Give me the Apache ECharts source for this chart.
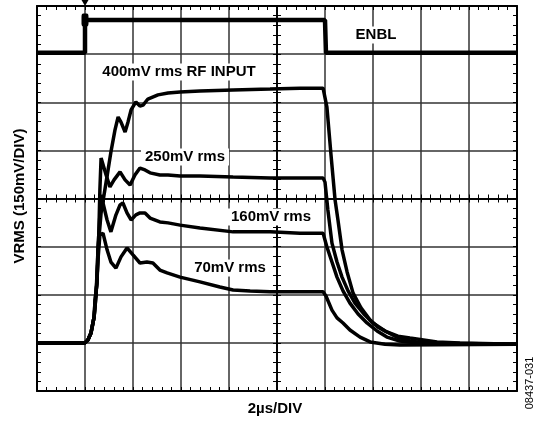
<!DOCTYPE html>
<html>
<head>
<meta charset="utf-8">
<script src="https://cdn.jsdelivr.net/npm/echarts@6/dist/echarts.min.js"></script>
<style>
html,body{margin:0;padding:0;background:#fff;}
#c{width:540px;height:421px;}
</style>
</head>
<body>
<div id="c"></div>
<script>
// time in µs (2 µs/div), level in mV (150 mV/div)
const xMin = 0, xMax = 20, xStep = 2;
const yMin = 0, yMax = 1200, yStep = 150;

const enbl = [[0,1054],[2,1054],[2,1156],[12,1156],[12.04,1054],[20,1054]];

const rf400 = [[0,150],[2,150],[2.12,159],[2.25,181],[2.38,231],[2.42,284],[2.5,337],[2.54,440],[2.67,555],[2.88,651],[3.08,745],[3.25,814],[3.38,854],[3.5,838],[3.67,807],[3.79,838],[3.92,876],[4.12,901],[4.29,888],[4.42,891],[4.62,910],[5.04,923],[5.46,929],[5.96,932],[6.79,935],[8.17,938],[9.71,941],[10.96,944],[11.92,944],[12.0,938],[12.08,885],[12.25,736],[12.42,595],[12.54,533],[12.71,440],[12.92,371],[13.17,305],[13.5,259],[13.88,221],[14.21,199],[14.58,184],[15.04,171],[15.54,165],[16.67,153],[17.62,150],[20,146]];

const rf250 = [[0,150],[2,150],[2.12,159],[2.25,181],[2.38,231],[2.42,284],[2.5,337],[2.58,502],[2.62,627],[2.67,726],[2.75,720],[2.88,673],[3.04,636],[3.21,658],[3.46,683],[3.67,658],[3.88,642],[4.08,673],[4.29,695],[4.5,689],[4.71,680],[5.12,673],[5.46,673],[5.96,670],[6.79,670],[8.17,667],[9.71,664],[10.96,664],[11.92,664],[12.0,651],[12.12,564],[12.29,461],[12.5,402],[12.71,355],[12.96,312],[13.25,274],[13.62,240],[14.0,212],[14.5,187],[15.0,168],[15.54,156],[16.17,150],[20,146]];

const rf160 = [[0,150],[2,150],[2.12,159],[2.25,181],[2.38,231],[2.46,299],[2.54,440],[2.62,549],[2.67,611],[2.75,586],[2.92,533],[3.08,496],[3.29,549],[3.46,580],[3.58,586],[3.75,555],[3.92,533],[4.12,549],[4.29,555],[4.5,555],[4.71,539],[5.12,527],[5.46,524],[5.96,517],[6.79,508],[8.17,496],[9.71,496],[10.96,492],[11.92,492],[12.0,486],[12.08,449],[12.29,402],[12.5,355],[12.75,312],[13.04,274],[13.38,240],[13.75,212],[14.17,187],[14.58,168],[15.12,156],[15.75,150],[17,146],[20,146]];

const rf70 = [[0,150],[2,150],[2.12,159],[2.25,181],[2.38,231],[2.46,299],[2.54,408],[2.62,486],[2.75,492],[2.92,440],[3.08,402],[3.29,383],[3.5,418],[3.75,446],[4.0,424],[4.29,399],[4.58,402],[4.83,399],[5.12,377],[5.42,368],[5.96,355],[6.79,340],[7.62,324],[8.17,315],[8.88,312],[9.71,309],[10.96,309],[11.92,309],[12.04,296],[12.29,252],[12.5,228],[12.75,212],[13.04,190],[13.46,168],[13.88,153],[14.5,146],[15.12,143],[20,146]];

const traceLabels = [
  {text:'400mV rms RF INPUT', x:179, y:72},
  {text:'ENBL', x:376, y:35},
  {text:'250mV rms', x:185, y:157},
  {text:'160mV rms', x:271, y:217},
  {text:'70mV rms', x:230, y:268}
];
const xTitle = '2µs/DIV';
const yTitle = 'VRMS (150mV/DIV)';
const figCode = '08437-031';

const FONT = '"Liberation Sans", Arial, sans-serif';
const chart = echarts.init(document.getElementById('c'), null, {renderer:'canvas'});

function xAx(pos, offset, inside, split){
  return {type:'value', min:xMin, max:xMax, interval:xStep, position:pos, offset:offset,
    axisLine:{show:true, onZero:false, lineStyle:{color:'#000', width: split ? 2 : (offset ? 1.5 : 2)}},
    axisTick:{show:true, inside:inside, length:4, lineStyle:{color:'#000', width:1}},
    minorTick:{show:true, splitNumber:5, length:4, lineStyle:{color:'#000', width:1}},
    splitLine:{show:!!split, lineStyle:{color:'#333', width:1.5}},
    axisLabel:{show:false}};
}
function yAx(pos, offset, inside, split){
  return {type:'value', min:yMin, max:yMax, interval:yStep, position:pos, offset:offset,
    axisLine:{show:true, onZero:false, lineStyle:{color:'#000', width: split ? 2 : (offset ? 1.5 : 2)}},
    axisTick:{show:true, inside:inside, length:4, lineStyle:{color:'#000', width:1}},
    minorTick:{show:true, splitNumber:5, length:4, lineStyle:{color:'#000', width:1}},
    splitLine:{show:!!split, lineStyle:{color:'#333', width:1.5}},
    axisLabel:{show:false}};
}

function line(data, w){
  return {type:'line', data:data, symbol:'none', xAxisIndex:0, yAxisIndex:0,
    lineStyle:{color:'#000', width:w}, animation:false, z:3};
}

const enblSeries = line(enbl, 4.5);
enblSeries.markPoint = {
  silent:true, animation:false,
  data:[
    {coord:[xStep, yMax], symbol:'triangle', symbolRotate:180, symbolSize:[7,6], symbolOffset:[0,-3], itemStyle:{color:'#000'}, label:{show:false}},
    {coord:[xStep, 1156], symbol:'roundRect', symbolSize:[7,13], itemStyle:{color:'#000'}, label:{show:false}}
  ]
};

const graphics = traceLabels.map(l => ({
  type:'text', x:l.x, y:l.y, z:100,
  style:{text:l.text, fill:'#000', font:'bold 15px ' + FONT, align:'center', verticalAlign:'middle', backgroundColor:'#fff', padding:[1,4]}
}));
graphics.push({type:'text', x:275, y:409, z:100, style:{text:xTitle, fill:'#000', font:'bold 15px ' + FONT, align:'center', verticalAlign:'middle'}});
graphics.push({type:'text', x:20, y:196, rotation:Math.PI/2, z:100, style:{text:yTitle, fill:'#000', font:'bold 15px ' + FONT, align:'center', verticalAlign:'middle'}});
graphics.push({type:'text', x:530, y:383, rotation:Math.PI/2, z:100, style:{text:figCode, fill:'#000', font:'11px ' + FONT, align:'center', verticalAlign:'middle'}});

chart.setOption({
  animation:false,
  backgroundColor:'#fff',
  grid:{left:37, top:6, width:480, height:385, outerBoundsMode:'none'},
  xAxis:[
    xAx('bottom', 0, true, true),
    xAx('top', 0, true, false),
    xAx('bottom', -192.5, true, false),
    xAx('bottom', -192.5, false, false)
  ],
  yAxis:[
    yAx('left', 0, true, true),
    yAx('right', 0, true, false),
    yAx('left', -240, true, false),
    yAx('left', -240, false, false)
  ],
  series:[
    enblSeries,
    line(rf400, 3.5),
    line(rf250, 3.5),
    line(rf160, 3.5),
    line(rf70, 3.5)
  ],
  graphic:graphics
});
</script>
</body>
</html>
